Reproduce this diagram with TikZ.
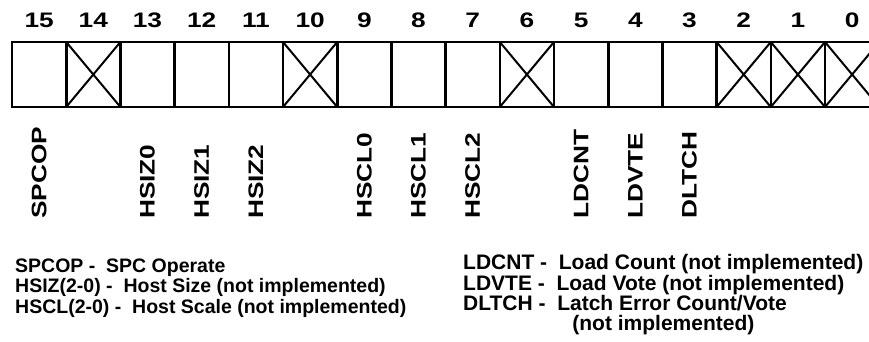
\documentclass[tikz,border=0pt]{standalone}
\usepackage{fontspec}
\setmainfont{Liberation Sans}
\newfontfamily\widefont[FakeStretch=1.25]{Liberation Sans}
\usepackage{tikz}
\usetikzlibrary{positioning}

\begin{document}
\begin{tikzpicture}[
    x=1pt, y=1pt,
    cell/.style={
        rectangle,
        draw=black,
        line width=2.6pt,
        minimum width=54.2pt,
        minimum height=65pt,
        inner sep=0pt,
        outer sep=0pt
    },
    cross/.style={
        line width=2pt
    },
    bitnum/.style={
        font=\widefont\bfseries\fontsize{21}{21}\selectfont,
        inner sep=0pt
    },
    field/.style={
        font=\widefont\bfseries\fontsize{21}{21}\selectfont,
        rotate=90,
        anchor=west,
        inner sep=0pt,
        xshift=-3pt
    },
    legend/.style={
        font=\bfseries\fontsize{19.5}{20.5}\selectfont,
        align=left,
        anchor=base west, % base = last line here
        inner sep=0pt
    }
]
\useasboundingbox (0,0) rectangle (869,-342);

% Register cells
\node[cell] (b15) at (39.1,-74.5) {};
\node[cell, right=0pt of b15] (b14) {};
\node[cell, right=0pt of b14] (b13) {};
\node[cell, right=0pt of b13] (b12) {};
\node[cell, right=0pt of b12] (b11) {};
\node[cell, right=0pt of b11] (b10) {};
\node[cell, right=0pt of b10] (b9) {};
\node[cell, right=0pt of b9] (b8) {};
\node[cell, right=0pt of b8] (b7) {};
\node[cell, right=0pt of b7] (b6) {};
\node[cell, right=0pt of b6] (b5) {};
\node[cell, right=0pt of b5] (b4) {};
\node[cell, right=0pt of b4] (b3) {};
\node[cell, right=0pt of b3] (b2) {};
\node[cell, right=0pt of b2] (b1) {};
\node[cell, right=0pt of b1] (b0) {};

% Unused bits
\draw[cross] (b14.north west) -- (b14.south east) (b14.south west) -- (b14.north east);
\draw[cross] (b10.north west) -- (b10.south east) (b10.south west) -- (b10.north east);
\draw[cross] (b6.north west) -- (b6.south east) (b6.south west) -- (b6.north east);
\draw[cross] (b2.north west) -- (b2.south east) (b2.south west) -- (b2.north east);
\draw[cross] (b1.north west) -- (b1.south east) (b1.south west) -- (b1.north east);
\draw[cross] (b0.north west) -- (b0.south east) (b0.south west) -- (b0.north east);

% Bit numbers
\node[bitnum, above=14pt of b15] (n15) {15};
\node[bitnum, above=14pt of b14] (n14) {14};
\node[bitnum, above=14pt of b13] (n13) {13};
\node[bitnum, above=14pt of b12] (n12) {12};
\node[bitnum, above=14pt of b11] (n11) {11};
\node[bitnum, above=14pt of b10] (n10) {10};
\node[bitnum, above=14pt of b9] (n9) {9};
\node[bitnum, above=14pt of b8] (n8) {8};
\node[bitnum, above=14pt of b7] (n7) {7};
\node[bitnum, above=14pt of b6] (n6) {6};
\node[bitnum, above=14pt of b5] (n5) {5};
\node[bitnum, above=14pt of b4] (n4) {4};
\node[bitnum, above=14pt of b3] (n3) {3};
\node[bitnum, above=14pt of b2] (n2) {2};
\node[bitnum, above=14pt of b1] (n1) {1};
\node[bitnum, above=14pt of b0] (n0) {0};

% Field names
\coordinate (fieldbase) at (0,-216);
\node[field] (spcop) at (b15 |- fieldbase) {SPCOP};
\node[field] (hsiz0) at (b13 |- fieldbase) {HSIZ0};
\node[field] (hsiz1) at (b12 |- fieldbase) {HSIZ1};
\node[field] (hsiz2) at (b11 |- fieldbase) {HSIZ2};
\node[field] (hscl0) at (b9 |- fieldbase) {HSCL0};
\node[field] (hscl1) at (b8 |- fieldbase) {HSCL1};
\node[field] (hscl2) at (b7 |- fieldbase) {HSCL2};
\node[field] (ldcnt) at (b5 |- fieldbase) {LDCNT};
\node[field] (ldvte) at (b4 |- fieldbase) {LDVTE};
\node[field] (dltch) at (b3 |- fieldbase) {DLTCH};

% Legend
\node[legend] (legleft) at (15,-313) {
    SPCOP -\ \ SPC Operate\\
    HSIZ(2-0) -\ \ Host Size (not implemented)\\
    HSCL(2-0) -\ \ Host Scale (not implemented)
};
\node[legend, font=\bfseries\fontsize{21}{19.3}\selectfont] (legright) at (463,-330) {
    LDCNT -\ \ Load Count (not implemented)\\
    LDVTE -\ \ Load Vote (not implemented)\\
    DLTCH -\ \ Latch Error Count/Vote\\
    \hspace*{5.2em}(not implemented)
};

\end{tikzpicture}
\end{document}
